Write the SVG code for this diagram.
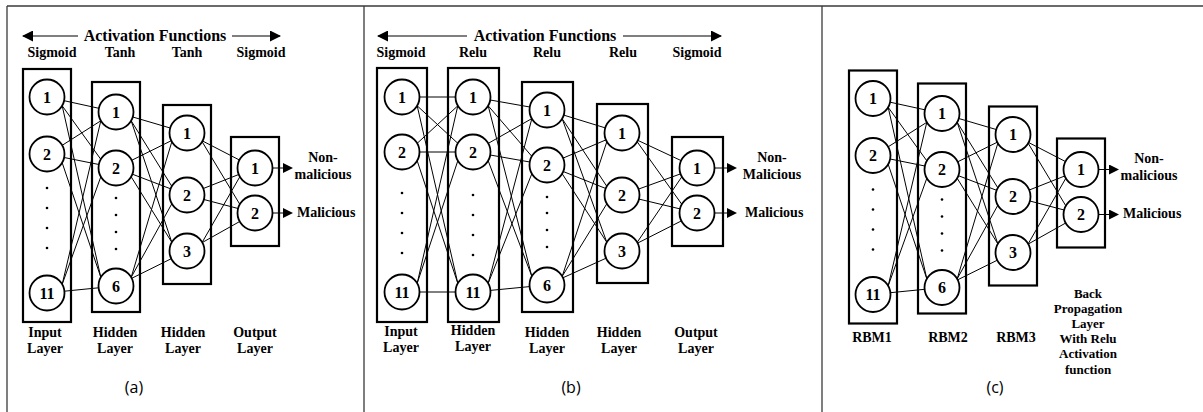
<svg xmlns="http://www.w3.org/2000/svg" xmlns:xlink="http://www.w3.org/1999/xlink" width="1203" height="412" viewBox="0 0 1203 412">
<defs>
<style>
.frame{stroke:#3a3a3a;stroke-width:1.3;fill:none}
.box{fill:none;stroke:#000;stroke-width:2.2}
.node circle{fill:#fff;stroke:#000;stroke-width:1.8}
.num{font-family:"Liberation Serif","Times New Roman",serif;font-weight:bold;font-size:16px;text-anchor:middle}
.conn line{stroke:#000;stroke-width:1}
.lbl{font-family:"Liberation Serif","Times New Roman",serif;font-weight:bold;font-size:14px;text-anchor:middle}
.lbl13{font-family:"Liberation Serif","Times New Roman",serif;font-weight:bold;font-size:13px;text-anchor:middle}
.st{text-anchor:start}
.title{font-family:"Liberation Serif","Times New Roman",serif;font-weight:bold;font-size:16px;text-anchor:middle}
.cap{font-family:"Open Sans","DejaVu Sans",sans-serif;font-size:16px;text-anchor:middle}
.dot{fill:#000}
.out{stroke:#000;stroke-width:2;fill:none}
.act{stroke:#000;stroke-width:1.2;fill:none}
</style>
<marker id="arr" viewBox="0 0 10 10" refX="6" refY="5" markerWidth="10" markerHeight="10" markerUnits="userSpaceOnUse" orient="auto">
<path d="M0,0 L10,5 L0,10 z" fill="#000"/>
</marker>
<marker id="arrA" viewBox="0 0 11 11" refX="10" refY="5.5" markerWidth="11" markerHeight="11" markerUnits="userSpaceOnUse" orient="auto">
<path d="M0,0 L11,5.5 L0,11 z" fill="#000"/>
</marker>
</defs>
<rect width="1203" height="412" fill="#fff"/>
<g id="frame" class="frame">
<line x1="7" y1="6" x2="1203" y2="6"/>
<line x1="7" y1="6" x2="7" y2="412"/>
<line x1="364" y1="6" x2="364" y2="412"/>
<line x1="822" y1="6" x2="822" y2="412"/>
</g>

<!-- ============ Panel (a) ============ -->
<g id="panel-a">
<g id="a-header">
<line class="act" x1="78" y1="36" x2="23" y2="36" marker-end="url(#arrA)"/>
<line class="act" x1="232" y1="36" x2="280" y2="36" marker-end="url(#arrA)"/>
<text class="title" x="155" y="41">Activation Functions</text>
<text class="lbl" x="52" y="57">Sigmoid</text>
<text class="lbl" x="120" y="57">Tanh</text>
<text class="lbl" x="187" y="57">Tanh</text>
<text class="lbl" x="261" y="57">Sigmoid</text>
</g>
<g id="a-layer-in"><rect class="box" x="23" y="69" width="48" height="253"/></g>
<g id="a-layer-h1"><rect class="box" x="92" y="82" width="48" height="230"/></g>
<g id="a-layer-h2"><rect class="box" x="163" y="105" width="48" height="179"/></g>
<g id="a-layer-out"><rect class="box" x="231" y="137" width="48" height="109"/></g>
<g id="a-connectors" class="conn">
<line x1="64.1" y1="100.7" x2="98.9" y2="108.3"/>
<line x1="62.2" y1="105.8" x2="100.8" y2="159.3"/>
<line x1="62.2" y1="105.8" x2="100.8" y2="277.3"/>
<line x1="62.2" y1="145.3" x2="100.8" y2="120.8"/>
<line x1="64.1" y1="157.5" x2="98.9" y2="164.5"/>
<line x1="62.2" y1="162.8" x2="100.8" y2="277.3"/>
<line x1="62.2" y1="284.3" x2="100.8" y2="120.8"/>
<line x1="62.2" y1="284.3" x2="100.8" y2="176.8"/>
<line x1="64.4" y1="291.2" x2="98.6" y2="287.8"/>
<line x1="132.8" y1="117" x2="170.2" y2="128"/>
<line x1="131.2" y1="120.8" x2="171.8" y2="186.3"/>
<line x1="131.2" y1="120.8" x2="171.8" y2="242.3"/>
<line x1="131.7" y1="160.3" x2="171.3" y2="140.7"/>
<line x1="132.4" y1="174.2" x2="170.6" y2="188.8"/>
<line x1="131.2" y1="176.8" x2="171.8" y2="242.3"/>
<line x1="131.2" y1="277.3" x2="171.8" y2="141.8"/>
<line x1="131.2" y1="277.3" x2="171.8" y2="203.8"/>
<line x1="131.7" y1="278.3" x2="171.3" y2="258.7"/>
<line x1="202.6" y1="141" x2="239.4" y2="160"/>
<line x1="202.2" y1="141.8" x2="239.8" y2="204.3"/>
<line x1="203.3" y1="188.5" x2="238.7" y2="174.5"/>
<line x1="203.9" y1="199.5" x2="238.1" y2="208.5"/>
<line x1="202.2" y1="242.3" x2="239.8" y2="176.8"/>
<line x1="202.3" y1="242.5" x2="239.7" y2="221.5"/>
<line class="out" x1="272.5" y1="168" x2="289" y2="168" marker-end="url(#arr)"/>
<line class="out" x1="272.5" y1="213" x2="289" y2="213" marker-end="url(#arr)"/>
</g>
<g id="a-in-1" class="node"><circle cx="47" cy="97" r="17.5"/><text class="num" x="47" y="102.5">1</text></g>
<g id="a-in-2" class="node"><circle cx="47" cy="154" r="17.5"/><text class="num" x="47" y="159.5">2</text></g>
<g id="a-in-dots"><circle class="dot" cx="47" cy="188" r="1.3"/><circle class="dot" cx="47" cy="208" r="1.3"/><circle class="dot" cx="47" cy="228" r="1.3"/><circle class="dot" cx="47" cy="248" r="1.3"/></g>
<g id="a-in-11" class="node"><circle cx="47" cy="293" r="17.5"/><text class="num" x="47" y="298.5">11</text></g>
<g id="a-h1-1" class="node"><circle cx="116" cy="112" r="17.5"/><text class="num" x="116" y="117.5">1</text></g>
<g id="a-h1-2" class="node"><circle cx="116" cy="168" r="17.5"/><text class="num" x="116" y="173.5">2</text></g>
<g id="a-h1-dots"><circle class="dot" cx="116" cy="198" r="1.3"/><circle class="dot" cx="116" cy="215" r="1.3"/><circle class="dot" cx="116" cy="232" r="1.3"/><circle class="dot" cx="116" cy="249" r="1.3"/></g>
<g id="a-h1-6" class="node"><circle cx="116" cy="286" r="17.5"/><text class="num" x="116" y="291.5">6</text></g>
<g id="a-h2-1" class="node"><circle cx="187" cy="133" r="17.5"/><text class="num" x="187" y="138.5">1</text></g>
<g id="a-h2-2" class="node"><circle cx="187" cy="195" r="17.5"/><text class="num" x="187" y="200.5">2</text></g>
<g id="a-h2-3" class="node"><circle cx="187" cy="251" r="17.5"/><text class="num" x="187" y="256.5">3</text></g>
<g id="a-out-1" class="node"><circle cx="255" cy="168" r="17.5"/><text class="num" x="255" y="173.5">1</text></g>
<g id="a-out-2" class="node"><circle cx="255" cy="213" r="17.5"/><text class="num" x="255" y="218.5">2</text></g>
<g id="a-labels">
<text class="lbl" x="323" y="162">Non-</text>
<text class="lbl" x="323" y="179">malicious</text>
<text class="lbl st" x="297" y="217">Malicious</text>
<text class="lbl" x="45" y="337">Input</text><text class="lbl" x="45" y="353">Layer</text>
<text class="lbl" x="115" y="337">Hidden</text><text class="lbl" x="115" y="353">Layer</text>
<text class="lbl" x="183" y="337">Hidden</text><text class="lbl" x="183" y="353">Layer</text>
<text class="lbl" x="255" y="337">Output</text><text class="lbl" x="255" y="353">Layer</text>
<text class="cap" x="134" y="393">(a)</text>
</g>
</g>

<!-- ============ Panel (b) ============ -->
<g id="panel-b">
<g id="b-header">
<line class="act" x1="467" y1="36" x2="378" y2="36" marker-end="url(#arrA)"/>
<line class="act" x1="623" y1="36" x2="721" y2="36" marker-end="url(#arrA)"/>
<text class="title" x="545" y="41">Activation Functions</text>
<text class="lbl" x="401" y="57">Sigmoid</text>
<text class="lbl" x="473" y="57">Relu</text>
<text class="lbl" x="547" y="57">Relu</text>
<text class="lbl" x="623" y="57">Relu</text>
<text class="lbl" x="697" y="57">Sigmoid</text>
</g>
<g id="b-layer-in"><rect class="box" x="377" y="68" width="50" height="254"/></g>
<g id="b-layer-h1"><rect class="box" x="448" y="68" width="51" height="254"/></g>
<g id="b-layer-h2"><rect class="box" x="522" y="82" width="51" height="230"/></g>
<g id="b-layer-h3"><rect class="box" x="597" y="104" width="51" height="179"/></g>
<g id="b-layer-out"><rect class="box" x="672" y="137" width="51" height="109"/></g>
<g id="b-connectors" class="conn">
<line x1="419.5" y1="97" x2="455.5" y2="97"/>
<line x1="417.2" y1="105.8" x2="457.8" y2="143.3"/>
<line x1="417.2" y1="105.8" x2="457.8" y2="283.3"/>
<line x1="417.2" y1="143.3" x2="457.8" y2="105.8"/>
<line x1="419.5" y1="152" x2="455.5" y2="152"/>
<line x1="417.2" y1="160.8" x2="457.8" y2="283.3"/>
<line x1="417.2" y1="283.3" x2="457.8" y2="105.8"/>
<line x1="417.2" y1="283.3" x2="457.8" y2="160.8"/>
<line x1="419.5" y1="292" x2="455.5" y2="292"/>
<line x1="490.2" y1="100" x2="529.8" y2="107"/>
<line x1="488.2" y1="105.8" x2="531.8" y2="156.3"/>
<line x1="488.2" y1="105.8" x2="531.8" y2="276.3"/>
<line x1="488.2" y1="143.4" x2="531.8" y2="118.6"/>
<line x1="490.2" y1="155" x2="529.8" y2="162"/>
<line x1="488.2" y1="160.8" x2="531.8" y2="276.3"/>
<line x1="488.2" y1="283.3" x2="531.8" y2="118.8"/>
<line x1="488.2" y1="283.3" x2="531.8" y2="173.8"/>
<line x1="490.4" y1="290.4" x2="529.6" y2="286.6"/>
<line x1="563.7" y1="115.1" x2="605.3" y2="127.9"/>
<line x1="562.2" y1="118.8" x2="606.8" y2="186.3"/>
<line x1="562.2" y1="118.8" x2="606.8" y2="242.3"/>
<line x1="563.1" y1="158.1" x2="605.9" y2="139.9"/>
<line x1="563.2" y1="171.5" x2="605.8" y2="188.5"/>
<line x1="562.2" y1="173.8" x2="606.8" y2="242.3"/>
<line x1="562.2" y1="276.3" x2="606.8" y2="141.8"/>
<line x1="562.2" y1="276.3" x2="606.8" y2="203.8"/>
<line x1="562.9" y1="277.8" x2="606.1" y2="258.2"/>
<line x1="637.9" y1="140.4" x2="681.1" y2="160.6"/>
<line x1="637.2" y1="141.8" x2="681.8" y2="204.3"/>
<line x1="638.5" y1="189.1" x2="680.5" y2="173.9"/>
<line x1="639" y1="199.1" x2="680" y2="208.9"/>
<line x1="637.2" y1="242.3" x2="681.8" y2="176.8"/>
<line x1="637.6" y1="243.1" x2="681.4" y2="220.9"/>
<line class="out" x1="714.5" y1="168" x2="733" y2="168" marker-end="url(#arr)"/>
<line class="out" x1="714.5" y1="213" x2="733" y2="213" marker-end="url(#arr)"/>
</g>
<g id="b-in-1" class="node"><circle cx="402" cy="97" r="17.5"/><text class="num" x="402" y="102.5">1</text></g>
<g id="b-in-2" class="node"><circle cx="402" cy="152" r="17.5"/><text class="num" x="402" y="157.5">2</text></g>
<g id="b-in-dots"><circle class="dot" cx="402" cy="193" r="1.3"/><circle class="dot" cx="402" cy="213" r="1.3"/><circle class="dot" cx="402" cy="233" r="1.3"/><circle class="dot" cx="402" cy="253" r="1.3"/></g>
<g id="b-in-11" class="node"><circle cx="402" cy="292" r="17.5"/><text class="num" x="402" y="297.5">11</text></g>
<g id="b-h1-1" class="node"><circle cx="473" cy="97" r="17.5"/><text class="num" x="473" y="102.5">1</text></g>
<g id="b-h1-2" class="node"><circle cx="473" cy="152" r="17.5"/><text class="num" x="473" y="157.5">2</text></g>
<g id="b-h1-dots"><circle class="dot" cx="473" cy="195" r="1.3"/><circle class="dot" cx="473" cy="215" r="1.3"/><circle class="dot" cx="473" cy="235" r="1.3"/><circle class="dot" cx="473" cy="255" r="1.3"/></g>
<g id="b-h1-11" class="node"><circle cx="473" cy="292" r="17.5"/><text class="num" x="473" y="297.5">11</text></g>
<g id="b-h2-1" class="node"><circle cx="547" cy="110" r="17.5"/><text class="num" x="547" y="115.5">1</text></g>
<g id="b-h2-2" class="node"><circle cx="547" cy="165" r="17.5"/><text class="num" x="547" y="170.5">2</text></g>
<g id="b-h2-dots"><circle class="dot" cx="547" cy="197" r="1.3"/><circle class="dot" cx="547" cy="213" r="1.3"/><circle class="dot" cx="547" cy="230" r="1.3"/><circle class="dot" cx="547" cy="247" r="1.3"/></g>
<g id="b-h2-6" class="node"><circle cx="547" cy="285" r="17.5"/><text class="num" x="547" y="290.5">6</text></g>
<g id="b-h3-1" class="node"><circle cx="622" cy="133" r="17.5"/><text class="num" x="622" y="138.5">1</text></g>
<g id="b-h3-2" class="node"><circle cx="622" cy="195" r="17.5"/><text class="num" x="622" y="200.5">2</text></g>
<g id="b-h3-3" class="node"><circle cx="622" cy="251" r="17.5"/><text class="num" x="622" y="256.5">3</text></g>
<g id="b-out-1" class="node"><circle cx="697" cy="168" r="17.5"/><text class="num" x="697" y="173.5">1</text></g>
<g id="b-out-2" class="node"><circle cx="697" cy="213" r="17.5"/><text class="num" x="697" y="218.5">2</text></g>
<g id="b-labels">
<text class="lbl" x="772" y="162">Non-</text>
<text class="lbl" x="772" y="179">Malicious</text>
<text class="lbl st" x="745" y="217">Malicious</text>
<text class="lbl" x="401" y="336">Input</text><text class="lbl" x="401" y="352">Layer</text>
<text class="lbl" x="473" y="335">Hidden</text><text class="lbl" x="473" y="351">Layer</text>
<text class="lbl" x="547" y="337">Hidden</text><text class="lbl" x="547" y="353">Layer</text>
<text class="lbl" x="619" y="337">Hidden</text><text class="lbl" x="619" y="353">Layer</text>
<text class="lbl" x="696" y="337">Output</text><text class="lbl" x="696" y="353">Layer</text>
<text class="cap" x="571" y="393">(b)</text>
</g>
</g>

<!-- ============ Panel (c) ============ -->
<g id="panel-c">
<g transform="translate(826,1.5)">
<g id="c-layer-rbm1"><rect class="box" x="23" y="69" width="48" height="253"/></g>
<g id="c-layer-rbm2"><rect class="box" x="92" y="82" width="48" height="230"/></g>
<g id="c-layer-rbm3"><rect class="box" x="163" y="105" width="48" height="179"/></g>
<g id="c-layer-bp"><rect class="box" x="231" y="137" width="48" height="109"/></g>
<g id="c-connectors" class="conn">
<line x1="64.1" y1="100.7" x2="98.9" y2="108.3"/>
<line x1="62.2" y1="105.8" x2="100.8" y2="159.3"/>
<line x1="62.2" y1="105.8" x2="100.8" y2="277.3"/>
<line x1="62.2" y1="145.3" x2="100.8" y2="120.8"/>
<line x1="64.1" y1="157.5" x2="98.9" y2="164.5"/>
<line x1="62.2" y1="162.8" x2="100.8" y2="277.3"/>
<line x1="62.2" y1="284.3" x2="100.8" y2="120.8"/>
<line x1="62.2" y1="284.3" x2="100.8" y2="176.8"/>
<line x1="64.4" y1="291.2" x2="98.6" y2="287.8"/>
<line x1="132.8" y1="117" x2="170.2" y2="128"/>
<line x1="131.2" y1="120.8" x2="171.8" y2="186.3"/>
<line x1="131.2" y1="120.8" x2="171.8" y2="242.3"/>
<line x1="131.7" y1="160.3" x2="171.3" y2="140.7"/>
<line x1="132.4" y1="174.2" x2="170.6" y2="188.8"/>
<line x1="131.2" y1="176.8" x2="171.8" y2="242.3"/>
<line x1="131.2" y1="277.3" x2="171.8" y2="141.8"/>
<line x1="131.2" y1="277.3" x2="171.8" y2="203.8"/>
<line x1="131.7" y1="278.3" x2="171.3" y2="258.7"/>
<line x1="202.6" y1="141" x2="239.4" y2="160"/>
<line x1="202.2" y1="141.8" x2="239.8" y2="204.3"/>
<line x1="203.3" y1="188.5" x2="238.7" y2="174.5"/>
<line x1="203.9" y1="199.5" x2="238.1" y2="208.5"/>
<line x1="202.2" y1="242.3" x2="239.8" y2="176.8"/>
<line x1="202.3" y1="242.5" x2="239.7" y2="221.5"/>
<line class="out" x1="272.5" y1="168" x2="289" y2="168" marker-end="url(#arr)"/>
<line class="out" x1="272.5" y1="213" x2="289" y2="213" marker-end="url(#arr)"/>
</g>
<g id="c-in-1" class="node"><circle cx="47" cy="97" r="17.5"/><text class="num" x="47" y="102.5">1</text></g>
<g id="c-in-2" class="node"><circle cx="47" cy="154" r="17.5"/><text class="num" x="47" y="159.5">2</text></g>
<g id="c-in-dots"><circle class="dot" cx="47" cy="188" r="1.3"/><circle class="dot" cx="47" cy="208" r="1.3"/><circle class="dot" cx="47" cy="228" r="1.3"/><circle class="dot" cx="47" cy="248" r="1.3"/></g>
<g id="c-in-11" class="node"><circle cx="47" cy="293" r="17.5"/><text class="num" x="47" y="298.5">11</text></g>
<g id="c-h1-1" class="node"><circle cx="116" cy="112" r="17.5"/><text class="num" x="116" y="117.5">1</text></g>
<g id="c-h1-2" class="node"><circle cx="116" cy="168" r="17.5"/><text class="num" x="116" y="173.5">2</text></g>
<g id="c-h1-dots"><circle class="dot" cx="116" cy="198" r="1.3"/><circle class="dot" cx="116" cy="215" r="1.3"/><circle class="dot" cx="116" cy="232" r="1.3"/><circle class="dot" cx="116" cy="249" r="1.3"/></g>
<g id="c-h1-6" class="node"><circle cx="116" cy="286" r="17.5"/><text class="num" x="116" y="291.5">6</text></g>
<g id="c-h2-1" class="node"><circle cx="187" cy="133" r="17.5"/><text class="num" x="187" y="138.5">1</text></g>
<g id="c-h2-2" class="node"><circle cx="187" cy="195" r="17.5"/><text class="num" x="187" y="200.5">2</text></g>
<g id="c-h2-3" class="node"><circle cx="187" cy="251" r="17.5"/><text class="num" x="187" y="256.5">3</text></g>
<g id="c-out-1" class="node"><circle cx="255" cy="168" r="17.5"/><text class="num" x="255" y="173.5">1</text></g>
<g id="c-out-2" class="node"><circle cx="255" cy="213" r="17.5"/><text class="num" x="255" y="218.5">2</text></g>
<g id="c-labels">
<text class="lbl" x="323" y="161">Non-</text>
<text class="lbl" x="323" y="178">malicious</text>
<text class="lbl st" x="297" y="216.5">Malicious</text>
<text class="lbl" x="46" y="340.5">RBM1</text>
<text class="lbl" x="122" y="340.5">RBM2</text>
<text class="lbl" x="190" y="340.5">RBM3</text>
<text class="lbl13" x="262" y="296">Back</text>
<text class="lbl13" x="262" y="311.5">Propagation</text>
<text class="lbl13" x="262" y="326.5">Layer</text>
<text class="lbl13" x="262" y="341.5">With Relu</text>
<text class="lbl13" x="262" y="356.5">Activation</text>
<text class="lbl13" x="262" y="372.5">function</text>
</g>
</g>
<text class="cap" x="995" y="393">(c)</text>
</g>
</svg>
